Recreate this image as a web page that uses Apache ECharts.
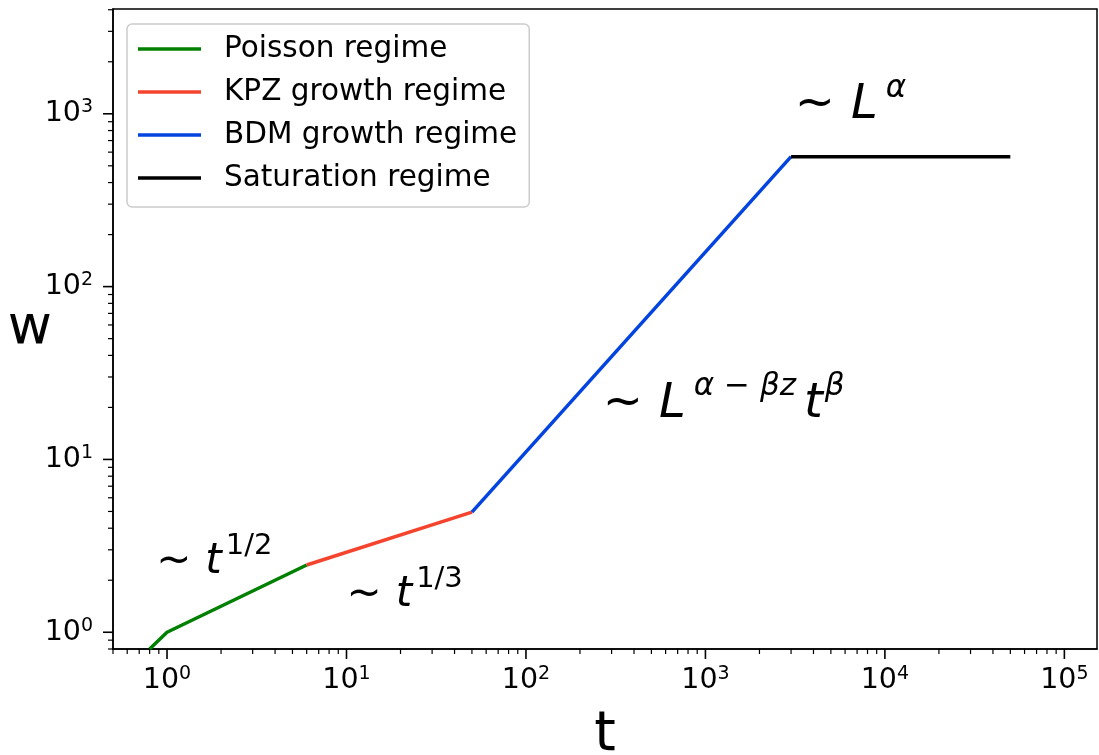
<!DOCTYPE html>
<html><head><meta charset="utf-8">
<script src="https://cdn.jsdelivr.net/npm/echarts@6/dist/echarts.min.js"></script>
<style>html,body{margin:0;padding:0;background:#fff}#c{width:1099px;height:755px}</style>
</head><body><div id="c"></div>
<script>
// ---- data ----
const seriesNames = ['Poisson regime', 'KPZ growth regime', 'BDM growth regime', 'Saturation regime'];
const seriesColors = ['#008000', '#f4442e', '#0343df', '#000000'];
const poissonData = [[0.8, 0.8], [1, 1], [6, 2.45]];
const kpzData = [[6, 2.45], [50, 4.96]];
const bdmData = [[50, 4.96], [3000, 565]];
const saturationData = [[3000, 565], [50000, 565]];
const xMin = 0.5, xMax = 152000, yMin = 0.8, yMax = 4040;
const xMinorTicks = [0.5, 0.6, 0.7, 0.8, 0.9, 2, 3, 4, 5, 6, 7, 8, 9, 20, 30, 40, 50, 60, 70, 80, 90,
  200, 300, 400, 500, 600, 700, 800, 900, 2000, 3000, 4000, 5000, 6000, 7000, 8000, 9000,
  20000, 30000, 40000, 50000, 60000, 70000, 80000, 90000];
const xMajorTicks = [1, 10, 100, 1000, 10000, 100000];
const yMinorTicks = [0.8, 0.9, 2, 3, 4, 5, 6, 7, 8, 9, 20, 30, 40, 50, 60, 70, 80, 90,
  200, 300, 400, 500, 600, 700, 800, 900, 2000, 3000, 4000];
const yMajorTicks = [1, 10, 100, 1000];
const annoT = [0.87, 10.0, 268, 3150];
const annoW = [2.55, 1.64, 20.8, 1110];
const annoText = [
  '{m1|~}{i1|t}{s1|1/2}',
  '{m1|~}{i1|t}{s1|1/3}',
  '{m2|~}{i2|L}{s2|α − βz}{i3|t}{s2|β}',
  '{m2|~}{i2|L}{s2|α}'
];

const FONT = 'DejaVu Sans';
function fmtPow(v) {
  const l = Math.log10(v), e = Math.round(l);
  if (Math.abs(l - e) > 1e-6) return '';
  return '{b|10}{s|' + e + '}';
}
const labelRich = {
  b: { fontSize: 28.5, fontFamily: FONT, color: '#000', lineHeight: 32 },
  s: { fontSize: 19, fontFamily: FONT, color: '#000', lineHeight: 22, verticalAlign: 'top' }
};
function tickSeries(axis, values, len, width) {
  return {
    type: 'custom', silent: true, clip: false, z: 20,
    data: values.map(v => axis === 'x' ? [v, yMin] : [xMin, v]),
    encode: { x: 0, y: 1 },
    renderItem: function (params, api) {
      const p = api.coord([api.value(0), api.value(1)]);
      const shape = axis === 'x'
        ? { x1: p[0], y1: p[1], x2: p[0], y2: p[1] + len }
        : { x1: p[0] - len, y1: p[1], x2: p[0], y2: p[1] };
      return { type: 'line', shape: shape, style: { stroke: '#000', lineWidth: width } };
    }
  };
}
function lineSeries(i, data) {
  return {
    name: seriesNames[i], type: 'line', data: data, showSymbol: false, symbol: 'none',
    color: seriesColors[i], lineStyle: { color: seriesColors[i], width: 3.5 },
    clip: true, z: 5, animation: false
  };
}
const chart = echarts.init(document.getElementById('c'));
chart.setOption({
  animation: false,
  backgroundColor: '#fff',
  grid: { left: 113, right: 2, top: 9, bottom: 106, show: true, borderColor: '#000', borderWidth: 1.5,
    containLabel: false, outerBoundsMode: 'none' },
  legend: {
    data: seriesNames, orient: 'vertical', left: 127, top: 24,
    icon: 'rect', itemWidth: 63, itemHeight: 3.5, itemGap: 13,
    padding: [10, 12, 14, 11],
    backgroundColor: 'rgba(255,255,255,0.85)', borderColor: '#cccccc', borderWidth: 1.5, borderRadius: 5,
    textStyle: { fontFamily: FONT, fontSize: 29.5, color: '#000', lineHeight: 30, padding: [0, 0, 0, 18] }
  },
  xAxis: {
    type: 'log', logBase: 10, min: xMin, max: xMax,
    axisLine: { show: true, lineStyle: { color: '#000', width: 1.5 } },
    axisTick: { show: false }, splitLine: { show: false }, minorTick: { show: false },
    axisLabel: { formatter: fmtPow, rich: labelRich, margin: 16 },
    name: 't', nameLocation: 'middle', nameGap: 59, nameMoveOverlap: false,
    nameTextStyle: { fontFamily: FONT, fontSize: 55, color: '#000' }
  },
  yAxis: {
    type: 'log', logBase: 10, min: yMin, max: yMax,
    axisLine: { show: true, lineStyle: { color: '#000', width: 1.5 } },
    axisTick: { show: false }, splitLine: { show: false }, minorTick: { show: false },
    axisLabel: { formatter: fmtPow, rich: labelRich, margin: 20 },
    name: 'w', nameLocation: 'middle', nameGap: 61, nameRotate: 0, nameMoveOverlap: false,
    nameTextStyle: { fontFamily: FONT, fontSize: 54, color: '#000', padding: [28, 0, 0, 0] }
  },
  series: [
    lineSeries(0, poissonData),
    lineSeries(1, kpzData),
    lineSeries(2, bdmData),
    lineSeries(3, saturationData),
    tickSeries('x', xMinorTicks, 5, 1.2),
    tickSeries('x', xMajorTicks, 10, 1.6),
    tickSeries('y', yMinorTicks, 5, 1.2),
    tickSeries('y', yMajorTicks, 10, 1.6),
    {
      type: 'scatter', silent: true, symbolSize: 0, z: 15,
      data: annoT.map((t, i) => [t, annoW[i]]),
      label: {
        show: true, position: 'right', distance: 0, color: '#000', opacity: 1,
        formatter: p => annoText[p.dataIndex],
        rich: {
          m1: { fontFamily: FONT, fontSize: 42, color: '#000', lineHeight: 60, padding: [0, 14, 0, 0] },
          i1: { fontFamily: FONT, fontSize: 42, fontStyle: 'italic', color: '#000', lineHeight: 60, padding: [0, 4, 0, 0] },
          s1: { fontFamily: FONT, fontSize: 29, color: '#000', lineHeight: 34, verticalAlign: 'top' },
          m2: { fontFamily: FONT, fontSize: 48, color: '#000', lineHeight: 66, padding: [0, 16, 0, 0] },
          i2: { fontFamily: FONT, fontSize: 48, fontStyle: 'italic', color: '#000', lineHeight: 66, padding: [0, 8, 0, 0] },
          i3: { fontFamily: FONT, fontSize: 48, fontStyle: 'italic', color: '#000', lineHeight: 66, padding: [0, 2, 0, 8] },
          s2: { fontFamily: FONT, fontSize: 31, fontStyle: 'italic', color: '#000', lineHeight: 40, verticalAlign: 'top' }
        }
      }
    }
  ]
});
</script></body></html>
